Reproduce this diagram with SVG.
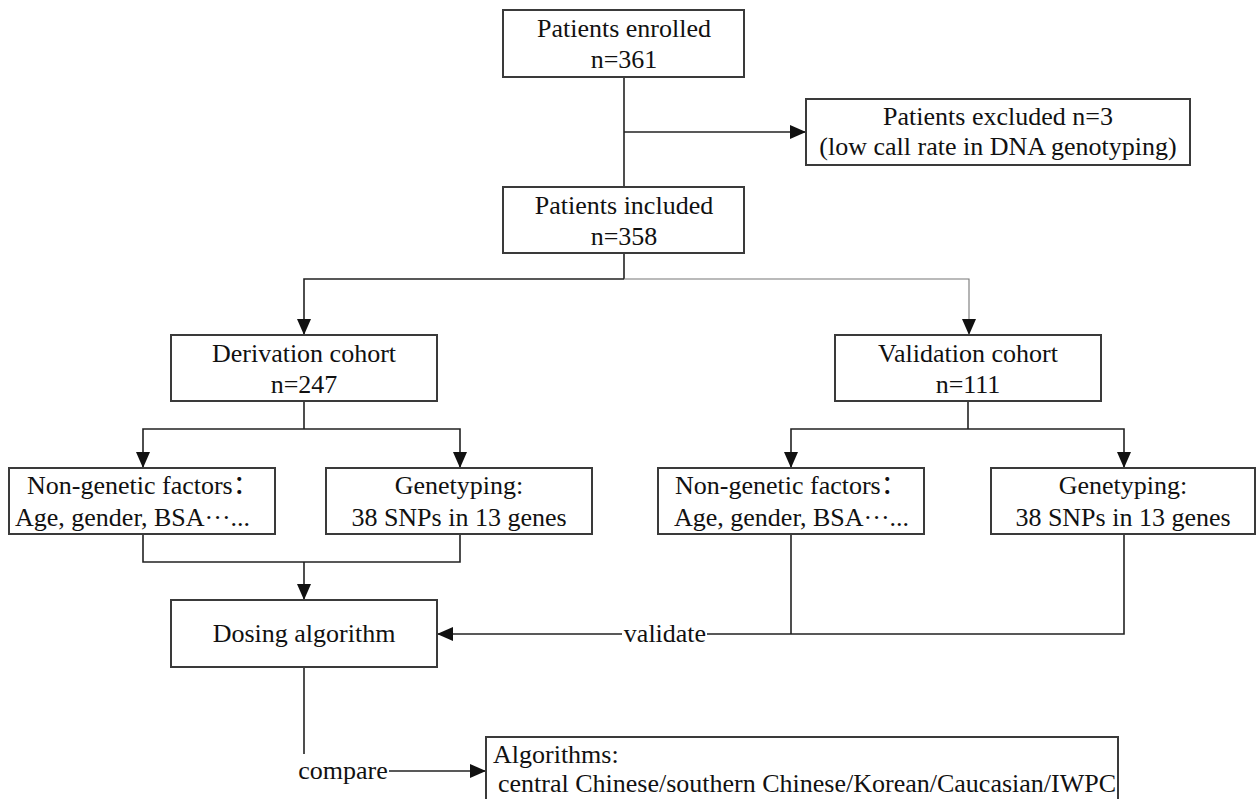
<svg xmlns="http://www.w3.org/2000/svg" width="1256" height="799" viewBox="0 0 1256 799">
<defs>
<style>
.box{fill:#fff;stroke:#3a3a3a;stroke-width:2}
.t{font-family:"Liberation Serif","Times New Roman",serif;font-size:26px;fill:#111}
.c{text-anchor:middle}
.cjk{font-family:"Noto Sans CJK SC","Liberation Serif",sans-serif}
.dots{letter-spacing:0px}
.ln{fill:none;stroke:#222;stroke-width:1.6}
.lt{fill:none;stroke:#777;stroke-width:1.1}
</style>
<marker id="ah" markerWidth="16" markerHeight="14" refX="16" refY="7" orient="auto" markerUnits="userSpaceOnUse">
<path d="M0,0 L16,7 L0,14 z" fill="#111"/>
</marker>
</defs>
<rect width="1256" height="799" fill="#fff"/>

<g id="connectors">
<line class="ln" x1="624" y1="77" x2="624" y2="187"/>
<line class="ln" x1="624" y1="132" x2="806" y2="132" marker-end="url(#ah)"/>
<line class="ln" x1="624" y1="253" x2="624" y2="279"/>
<polyline class="ln" points="624,279 304,279 304,335" marker-end="url(#ah)"/>
<polyline class="lt" points="624,279 969,279 969,335" marker-end="url(#ah)"/>
<line class="ln" x1="304" y1="401" x2="304" y2="429"/>
<polyline class="ln" points="304,429 143,429 143,468" marker-end="url(#ah)"/>
<polyline class="ln" points="304,429 460,429 460,468" marker-end="url(#ah)"/>
<line class="ln" x1="968" y1="401" x2="968" y2="429"/>
<polyline class="ln" points="968,429 791,429 791,468" marker-end="url(#ah)"/>
<polyline class="ln" points="968,429 1124,429 1124,468" marker-end="url(#ah)"/>
<polyline class="ln" points="143,534 143,562 460,562 460,534"/>
<line class="ln" x1="304" y1="562" x2="304" y2="600" marker-end="url(#ah)"/>
<line class="ln" x1="791" y1="534" x2="791" y2="634"/>
<polyline class="ln" points="1124,534 1124,634 707,634"/>
<line class="ln" x1="622" y1="634" x2="437" y2="634" marker-end="url(#ah)"/>
<text class="t c" x="665" y="642">validate</text>
<line class="ln" x1="304" y1="667" x2="304" y2="754"/>
<text class="t c" x="343" y="779">compare</text>
<line class="ln" x1="389" y1="771" x2="486" y2="771" marker-end="url(#ah)"/>
</g>

<g id="enrolled">
<rect class="box" x="503" y="10" width="241" height="67"/>
<text class="t c" x="624" y="37">Patients enrolled</text>
<text class="t c" x="624" y="68">n=361</text>
</g>

<g id="excluded">
<rect class="box" x="806" y="99" width="384" height="66"/>
<text class="t c" x="998" y="125">Patients excluded n=3</text>
<text class="t c" x="998" y="155">(low call rate in DNA genotyping)</text>
</g>

<g id="included">
<rect class="box" x="503" y="187" width="241" height="66"/>
<text class="t c" x="624" y="214">Patients included</text>
<text class="t c" x="624" y="245">n=358</text>
</g>

<g id="derivation">
<rect class="box" x="171" y="335" width="266" height="66"/>
<text class="t c" x="304" y="362">Derivation cohort</text>
<text class="t c" x="304" y="393">n=247</text>
</g>

<g id="validation">
<rect class="box" x="835" y="335" width="266" height="66"/>
<text class="t c" x="968" y="362">Validation cohort</text>
<text class="t c" x="968" y="393">n=111</text>
</g>

<g id="deriv-nongenetic">
<rect class="box" x="9" y="468" width="266" height="66"/>
<text class="t" x="27" y="494">Non-genetic factors<tspan class="cjk">：</tspan></text>
<text class="t" x="15" y="526">Age, gender, BSA<tspan class="dots">···</tspan>...</text>
</g>

<g id="deriv-genetyping">
<rect class="box" x="326" y="468" width="266" height="66"/>
<text class="t c" x="459" y="494">Genetyping:</text>
<text class="t c" x="459" y="526">38 SNPs in 13 genes</text>
</g>

<g id="valid-nongenetic">
<rect class="box" x="658" y="468" width="266" height="66"/>
<text class="t" x="675" y="494">Non-genetic factors<tspan class="cjk">：</tspan></text>
<text class="t" x="674" y="526">Age, gender, BSA<tspan class="dots">···</tspan>...</text>
</g>

<g id="valid-genetyping">
<rect class="box" x="991" y="468" width="264" height="66"/>
<text class="t c" x="1123" y="494">Genetyping:</text>
<text class="t c" x="1123" y="526">38 SNPs in 13 genes</text>
</g>

<g id="dosing">
<rect class="box" x="171" y="600" width="266" height="67"/>
<text class="t c" x="304" y="642">Dosing algorithm</text>
</g>

<g id="algorithms">
<rect class="box" x="486" y="737" width="632" height="66"/>
<text class="t" x="493" y="763">Algorithms:</text>
<text class="t" x="498" y="792">central Chinese/southern Chinese/Korean/Caucasian/IWPC</text>
</g>
</svg>
